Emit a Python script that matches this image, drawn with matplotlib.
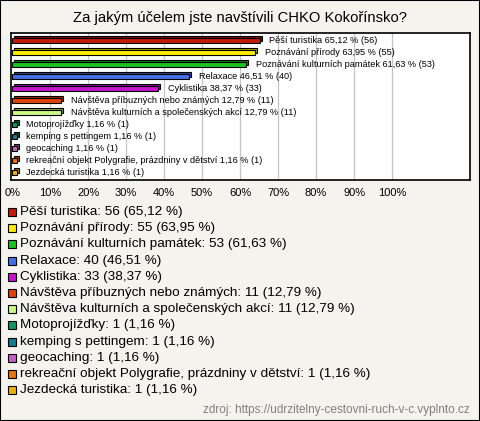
import matplotlib
matplotlib.use("Agg")
import matplotlib.pyplot as plt
import matplotlib.colors as mcolors
from matplotlib.patches import Rectangle

plt.rcParams['font.family'] = ['Liberation Sans', 'DejaVu Sans']

title = "Za jakým účelem jste navštívili CHKO Kokořínsko?"
categories = ["Pěší turistika", "Poznávání přírody", "Poznávání kulturních památek",
              "Relaxace", "Cyklistika", "Návštěva příbuzných nebo známých",
              "Návštěva kulturních a společenských akcí", "Motoprojížďky",
              "kemping s pettingem", "geocaching",
              "rekreační objekt Polygrafie, prázdniny v dětství", "Jezdecká turistika"]
counts = [56, 55, 53, 40, 33, 11, 11, 1, 1, 1, 1, 1]
percents = [65.12, 63.95, 61.63, 46.51, 38.37, 12.79, 12.79, 1.16, 1.16, 1.16, 1.16, 1.16]
colors = ["#c41a08", "#ffee00", "#1ec21e", "#4470e6", "#c414cc", "#e0420e",
          "#c8fa84", "#129462", "#157a92", "#c062c4", "#e87412", "#e8b010"]
ticks = [0, 10, 20, 30, 40, 50, 60, 70, 80, 90, 100]
source = "zdroj: https://udrzitelny-cestovni-ruch-v-c.vyplnto.cz"

def fmt(v):
    return ("%.2f" % v).replace(".", ",")

bg = "#f4f3ee"
fig = plt.figure(figsize=(4.8, 4.21), dpi=100, facecolor=bg)
fig.patches.append(Rectangle((0, 0), 1, 1, transform=fig.transFigure, fill=False,
                             edgecolor="black", linewidth=1.5))

W, H = 480, 421
ax = fig.add_axes([11 / W, 1 - 180 / H, 459 / W, 147 / H])
ax.set_facecolor("white")
ax.set_xlim(-0.3, 120.5)
ax.set_ylim(11.6, -0.6)

for t in ticks[1:]:
    ax.axvline(t, color="#c4c4c4", linewidth=0.9, zorder=0)

h = 0.42
dx, dy = 0.55, 0.16
for i, (p, c) in enumerate(zip(percents, colors)):
    dark = tuple(v * 0.65 for v in mcolors.to_rgb(c))
    ax.barh(i - dy, p, left=dx, height=h, color=dark, edgecolor="black",
            linewidth=0.8, zorder=2)
    ax.barh(i, p, height=h, color=c, edgecolor="black", linewidth=0.8, zorder=3)
    ax.text(p + 2.6, i, "%s %s %% (%d)" % (categories[i], fmt(p), counts[i]),
            fontsize=6.6, va="center", ha="left", zorder=4)

ax.set_yticks([])
ax.set_xticks(ticks)
ax.set_xticklabels(["%d%%" % t for t in ticks], fontsize=8)
ax.tick_params(axis="x", length=0, pad=6)
for s in ax.spines.values():
    s.set_linewidth(1.2)

fig.text(0.5, 1 - 18 / H, title, ha="center", va="center", fontsize=10.6)

# legend list
y0 = 212
for i, (cat, c) in enumerate(zip(categories, colors)):
    y = y0 + i * 16.2
    fig.patches.append(Rectangle((8 / W, 1 - (y + 4) / H), 8 / W, 8 / H,
                                 transform=fig.transFigure, facecolor=c,
                                 edgecolor="black", linewidth=0.8))
    fig.text(19.5 / W, 1 - y / H, "%s: %d (%s %%)" % (cat, counts[i], fmt(percents[i])),
             ha="left", va="center", fontsize=9.7)

fig.text(470 / W, 1 - 410 / H, source, ha="right", va="center", fontsize=8.5,
         color="#808080")

fig.savefig("out.png", dpi=100, facecolor=bg)
